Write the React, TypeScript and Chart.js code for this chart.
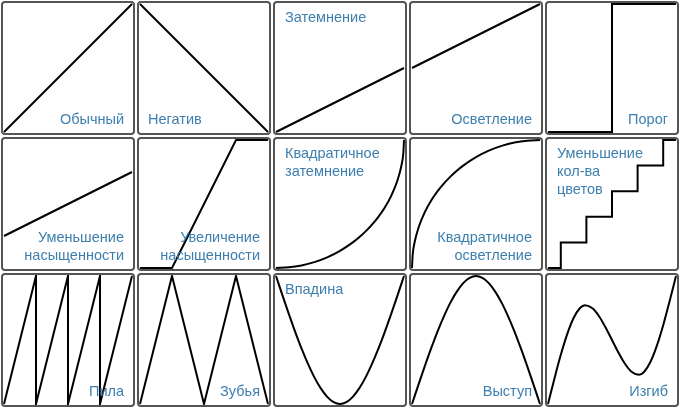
import React, { useEffect, useRef } from "react";
import { Chart, registerables } from "chart.js";

Chart.register(...registerables);

// ---- data (x, y pairs in the unit square) ----
const normal = [[0, 0], [1, 1]];
const negative = [[0, 1], [1, 0]];
const darken = [[0, 0], [1, 0.5]];
const lighten = [[0, 0.5], [1, 1]];
const threshold = [[0, 0], [0.5, 0], [0.5, 1], [1, 1]];
const desaturate = [[0, 0.25], [1, 0.75]];
const saturate = [[0, 0], [0.25, 0], [0.75, 1], [1, 1]];
const quadDarken = [
  [0, 0], [0.1, 0.005], [0.2, 0.02], [0.3, 0.046], [0.4, 0.083], [0.5, 0.134],
  [0.6, 0.2], [0.65, 0.24], [0.7, 0.286], [0.75, 0.339], [0.8, 0.4], [0.85, 0.473],
  [0.9, 0.564], [0.95, 0.688], [0.98, 0.801], [0.995, 0.9], [1, 1],
];
const quadLighten = [
  [0, 0], [0.005, 0.1], [0.02, 0.199], [0.05, 0.312], [0.1, 0.436], [0.15, 0.527],
  [0.2, 0.6], [0.25, 0.661], [0.3, 0.714], [0.35, 0.76], [0.4, 0.8], [0.5, 0.866],
  [0.6, 0.917], [0.7, 0.954], [0.8, 0.98], [0.9, 0.995], [1, 1],
];
const posterize = [
  [0, 0], [0.1, 0], [0.1, 0.2], [0.3, 0.2], [0.3, 0.4], [0.5, 0.4], [0.5, 0.6],
  [0.7, 0.6], [0.7, 0.8], [0.9, 0.8], [0.9, 1], [1, 1],
];
const saw = [
  [0, 0], [0.25, 1], [0.25, 0], [0.5, 1], [0.5, 0], [0.75, 1], [0.75, 0], [1, 1],
];
const teeth = [[0, 0], [0.25, 1], [0.5, 0], [0.75, 1], [1, 0]];
const valley = [
  [0, 1], [0.05, 0.851], [0.1, 0.704], [0.15, 0.564], [0.2, 0.432], [0.25, 0.313],
  [0.3, 0.208], [0.35, 0.122], [0.4, 0.056], [0.45, 0.015], [0.5, 0],
  [0.55, 0.015], [0.6, 0.056], [0.65, 0.122], [0.7, 0.208], [0.75, 0.313],
  [0.8, 0.432], [0.85, 0.564], [0.9, 0.704], [0.95, 0.851], [1, 1],
];
const hump = [
  [0, 0], [0.05, 0.149], [0.1, 0.296], [0.15, 0.436], [0.2, 0.568], [0.25, 0.687],
  [0.3, 0.792], [0.35, 0.878], [0.4, 0.944], [0.45, 0.985], [0.5, 1],
  [0.55, 0.985], [0.6, 0.944], [0.65, 0.878], [0.7, 0.792], [0.75, 0.687],
  [0.8, 0.568], [0.85, 0.436], [0.9, 0.296], [0.95, 0.149], [1, 0],
];
const bend = [
  [0, 0], [0.05, 0.198], [0.1, 0.384], [0.15, 0.546], [0.2, 0.672], [0.25, 0.75],
  [0.289, 0.772], [0.35, 0.746], [0.4, 0.684], [0.45, 0.598], [0.5, 0.5],
  [0.55, 0.402], [0.6, 0.316], [0.65, 0.254], [0.711, 0.228], [0.75, 0.25],
  [0.8, 0.328], [0.85, 0.454], [0.9, 0.616], [0.95, 0.802], [1, 1],
];

const titles = [
  "Обычный", "Негатив", "Затемнение", "Осветление", "Порог",
  "Уменьшение\nнасыщенности", "Увеличение\nнасыщенности", "Квадратичное\nзатемнение",
  "Квадратичное\nосветление", "Уменьшение\nкол-ва\nцветов",
  "Пила", "Зубья", "Впадина", "Выступ", "Изгиб",
];
const curves = [
  normal, negative, darken, lighten, threshold,
  desaturate, saturate, quadDarken, quadLighten, posterize,
  saw, teeth, valley, hump, bend,
];
const smoothCurves = [
  false, false, false, false, false,
  false, false, true, true, false,
  false, false, true, true, true,
];

// label placement (layout, not data)
const placement = [
  "br", "bl", "tl", "br", "br",
  "br", "br", "tl", "br", "tl",
  "br", "br", "tl", "br", "br",
];

function Cell({ points, smooth, title, place }: { points: number[][]; smooth: boolean; title: string; place: string }) {
  const ref = useRef<HTMLCanvasElement>(null);
  useEffect(() => {
    const chart = new Chart(ref.current as HTMLCanvasElement, {
      type: "scatter",
      data: {
        datasets: [
          {
            data: points.map(([x, y]) => ({ x, y })),
            showLine: true,
            borderColor: "#000",
            backgroundColor: "#000",
            borderWidth: 2,
            pointRadius: 0,
            pointHoverRadius: 0,
            cubicInterpolationMode: smooth ? "monotone" : "default",
            tension: 0,
            fill: false,
            clip: false,
          } as any,
        ],
      },
      options: {
        animation: false,
        responsive: false,
        devicePixelRatio: 1,
        events: [],
        layout: { padding: 1 },
        plugins: { legend: { display: false }, tooltip: { enabled: false } },
        scales: {
          x: { type: "linear", min: 0, max: 1, display: false },
          y: { type: "linear", min: 0, max: 1, display: false },
        },
      },
    });
    return () => chart.destroy();
  }, []);

  const labelStyle: React.CSSProperties = {
    position: "absolute",
    whiteSpace: "pre-line",
    color: "#3d7fae",
    fontFamily: '"Liberation Sans", Arial, sans-serif',
    fontSize: "14.5px",
    lineHeight: "18px",
    zIndex: 2,
  };
  if (place === "tl") {
    labelStyle.left = 10;
    labelStyle.top = 5;
    labelStyle.textAlign = "left";
  } else if (place === "bl") {
    labelStyle.left = 9;
    labelStyle.bottom = 5;
    labelStyle.textAlign = "left";
  } else {
    labelStyle.right = 9;
    labelStyle.bottom = 5;
    labelStyle.textAlign = "right";
  }

  return (
    <div
      style={{
        position: "relative",
        margin: 1,
        width: 134,
        height: 134,
        boxSizing: "border-box",
        border: "2px solid #555",
        borderRadius: 4,
        background: "#fff",
        overflow: "hidden",
      }}
    >
      <canvas
        ref={ref}
        width={130}
        height={130}
        style={{ position: "absolute", left: 0, top: 0, width: 130, height: 130, display: "block" }}
      />
      <div style={labelStyle}>{title}</div>
    </div>
  );
}

export default function App() {
  return (
    <div
      style={{
        position: "absolute",
        left: 0,
        top: 0,
        width: 680,
        height: 408,
        background: "#fff",
        display: "grid",
        gridTemplateColumns: "repeat(5, 136px)",
        gridTemplateRows: "repeat(3, 136px)",
      }}
    >
      {curves.map((pts, i) => (
        <Cell key={i} points={pts} smooth={smoothCurves[i]} title={titles[i]} place={placement[i]} />
      ))}
    </div>
  );
}
